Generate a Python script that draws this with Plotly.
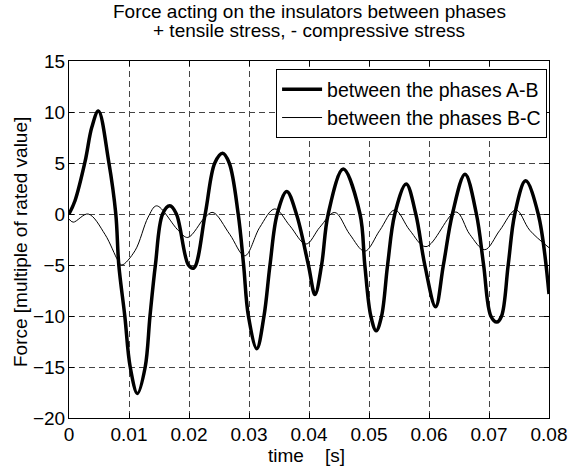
import plotly.graph_objects as go

# Force between phases A-B (thick line)
t_ab = [0, 0.001, 0.0027, 0.0038, 0.0049, 0.0066, 0.0078, 0.0083, 0.0093, 0.0102,
        0.0114, 0.0127, 0.0135, 0.0144, 0.0156, 0.0168, 0.0179, 0.0199, 0.0208,
        0.0227, 0.0243, 0.0256, 0.0267, 0.0282, 0.0291, 0.0299, 0.0313, 0.0325,
        0.0335, 0.0347, 0.0363, 0.0379, 0.0399, 0.0410, 0.0421, 0.0432, 0.0457,
        0.0485, 0.0493, 0.0503, 0.0512, 0.0521, 0.0531, 0.0543, 0.0562, 0.0578,
        0.0593, 0.0611, 0.0624, 0.0639, 0.0660, 0.0679, 0.0691, 0.0703, 0.0713,
        0.0721, 0.0732, 0.0743, 0.0761, 0.0782, 0.0800]
f_ab = [0, 1.3, 5.2, 8.5, 10.1, 5.2, 0, -5, -10, -15,
        -17.6, -15, -10, -5, 0, 0.8, 0, -5.0, -5.3,
        0, 5, 5.95, 5, 0, -5, -10, -13.2, -10,
        -5, 0, 2.2, 0, -5, -7.9, -5, 0, 4.4,
        0, -5, -10, -11.45, -10, -5, 0, 2.94, 0,
        -5, -9.1, -5, 0, 3.9, 0, -5, -10, -10.6,
        -10, -5, 0, 3.25, 0, -7.85]

# Force between phases B-C (thin line)
t_bc = [0, 0.0007, 0.0032, 0.006, 0.0082, 0.0088, 0.011, 0.0132, 0.0146, 0.0182,
        0.0198, 0.0227, 0.0240, 0.0268, 0.0293, 0.0318, 0.0343, 0.0368, 0.0395,
        0.0418, 0.0443, 0.0468, 0.0493, 0.0518, 0.0543, 0.0568, 0.0595, 0.0645,
        0.0668, 0.0693, 0.0718, 0.0745, 0.0768, 0.0800]
f_bc = [-0.5, -0.8, 0, -2.0, -4.6, -5.0, -3.6, -0.3, 0.8, -1.6,
        -2.3, -0.3, 0.15, -2.0, -4.1, -1.3, 0.5, -1.15, -2.95,
        -1.3, 0.15, -2.0, -3.65, -1.6, 0.4, -1.6, -3.2, 0.2,
        -2.0, -3.5, -1.6, 0.4, -1.6, -3.3]

x_ticks = [0, 0.01, 0.02, 0.03, 0.04, 0.05, 0.06, 0.07, 0.08]
x_tick_labels = ["0", "0.01", "0.02", "0.03", "0.04", "0.05", "0.06", "0.07", "0.08"]
y_ticks = [-20, -15, -10, -5, 0, 5, 10, 15]

title_lines = ["Force acting on the insulators between phases",
               "+ tensile stress, - compressive stress"]
x_title = "time    [s]"
y_title = "Force [multiple of rated value]"

FONT = "Liberation Sans, Arial, sans-serif"
L, R, T, B = 69, 549, 61, 418
PH = B - T
PW = R - L


def py(pix):
    """pixel row -> paper y"""
    return (B - pix) / PH


fig = go.Figure()
fig.add_trace(go.Scatter(x=t_ab, y=f_ab, mode="lines", name="between the phases A-B",
                         line=dict(color="black", width=3.5, shape="spline", smoothing=1)))
fig.add_trace(go.Scatter(x=t_bc, y=f_bc, mode="lines", name="between the phases B-C",
                         line=dict(color="black", width=1, shape="spline", smoothing=1)))

axis_common = dict(showline=True, linecolor="black", linewidth=1, mirror="allticks",
                   ticks="inside", ticklen=5, tickcolor="black", automargin=False,
                   showgrid=True, gridcolor="#444", griddash="6px,4px", gridwidth=1,
                   zeroline=False, tickfont=dict(family=FONT, size=19, color="black"))

annotations = [
    dict(text=title_lines[0], xref="paper", yref="paper", x=0.5, y=py(11.5),
         xanchor="center", yanchor="middle", showarrow=False,
         font=dict(family=FONT, size=19, color="black")),
    dict(text=title_lines[1], xref="paper", yref="paper", x=0.5, y=py(30),
         xanchor="center", yanchor="middle", showarrow=False,
         font=dict(family=FONT, size=19, color="black")),
    dict(text=x_title, xref="paper", yref="paper", x=(306 - L) / PW, y=py(455.5),
         xanchor="center", yanchor="middle", showarrow=False,
         font=dict(family=FONT, size=19, color="black")),
    dict(text=y_title, xref="paper", yref="paper", x=(20 - L) / PW, y=py(242),
         xanchor="center", yanchor="middle", showarrow=False, textangle=-90,
         font=dict(family=FONT, size=19, color="black")),
]

fig.update_layout(
    template="none",
    width=570, height=468,
    margin=dict(l=L, r=570 - R, t=T, b=468 - B, autoexpand=False),
    paper_bgcolor="white", plot_bgcolor="white",
    xaxis=dict(range=[0, 0.08], tickvals=x_ticks, ticktext=x_tick_labels,
               ticklabelstandoff=-1, **axis_common),
    yaxis=dict(range=[-20, 15], tickvals=y_ticks, ticklabelstandoff=-1, **axis_common),
    legend=dict(x=0.996, y=py(69), xanchor="right", yanchor="top",
                bgcolor="white", bordercolor="black", borderwidth=1,
                font=dict(family=FONT, size=19.5, color="black"),
                tracegroupgap=0, itemwidth=40),
    annotations=annotations,
    showlegend=True,
)

fig.write_html("out.html", config={"displayModeBar": False},
               post_script="document.body.style.margin='0';document.body.style.padding='0';")
